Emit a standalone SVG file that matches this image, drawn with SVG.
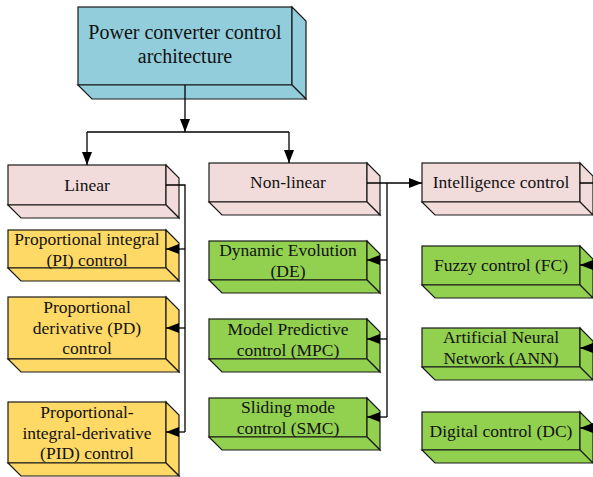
<svg xmlns="http://www.w3.org/2000/svg" width="593" height="477" viewBox="0 0 593 477">
  <style>
    .box rect, .box polygon { stroke: #1a1a1a; stroke-width: 1.2; stroke-linejoin: miter; }
    .blue rect, .blue polygon { fill: #92CDDC; }
    .pink rect, .pink polygon { fill: #F2DCDB; }
    .yellow rect, .yellow polygon { fill: #FFD966; }
    .green rect, .green polygon { fill: #92D050; }
    text { font-family: "Liberation Serif", "Times New Roman", serif; font-size: 17.5px; fill: #111; text-anchor: middle; }
    .title { font-size: 20px; }
    .wire { fill: none; stroke: #000; stroke-width: 1.3; }
  </style>
  <defs>
    <marker id="arrow" viewBox="0 0 13 10" refX="13" refY="5" markerWidth="13" markerHeight="10" markerUnits="userSpaceOnUse" orient="auto">
      <path d="M0,0 L13,5 L0,10 Z" fill="#000"/>
    </marker>
  </defs>

  <!-- Root -->
  <g id="root" class="box blue">
    <rect x="78" y="7" width="214" height="78"/>
    <polygon points="292,7 306,21 306,99 292,85"/>
    <polygon points="78,85 292,85 306,99 92,99"/>
    <text class="title" x="185" y="39">Power converter control</text>
    <text class="title" x="185" y="63">architecture</text>
  </g>

  <!-- Category level -->
  <g id="linear" class="box pink">
    <rect x="8" y="165" width="158" height="40"/>
    <polygon points="166,165 179,178 179,218 166,205"/>
    <polygon points="8,205 166,205 179,218 21,218"/>
    <text x="87" y="191">Linear</text>
  </g>
  <g id="nonlinear" class="box pink">
    <rect x="209" y="163" width="158" height="39"/>
    <polygon points="367,163 380,176 380,215 367,202"/>
    <polygon points="209,202 367,202 380,215 222,215"/>
    <text x="288" y="188">Non-linear</text>
  </g>
  <g id="intelligence" class="box pink">
    <rect x="422" y="163" width="158" height="39"/>
    <polygon points="580,163 593,176 593,215 580,202"/>
    <polygon points="422,202 580,202 593,215 435,215"/>
    <text x="501" y="188">Intelligence control</text>
  </g>

  <!-- Linear methods -->
  <g id="pi" class="box yellow">
    <rect x="8" y="230" width="158" height="38"/>
    <polygon points="166,230 179,243 179,281 166,268"/>
    <polygon points="8,268 166,268 179,281 21,281"/>
    <text x="87" y="245">Proportional integral</text>
    <text x="87" y="265.5">(PI) control</text>
  </g>
  <g id="pd" class="box yellow">
    <rect x="8" y="297" width="158" height="62"/>
    <polygon points="166,297 179,310 179,372 166,359"/>
    <polygon points="8,359 166,359 179,372 21,372"/>
    <text x="87" y="313">Proportional</text>
    <text x="87" y="333.5">derivative (PD)</text>
    <text x="87" y="354">control</text>
  </g>
  <g id="pid" class="box yellow">
    <rect x="8" y="402" width="158" height="61"/>
    <polygon points="166,402 179,415 179,476 166,463"/>
    <polygon points="8,463 166,463 179,476 21,476"/>
    <text x="87" y="418">Proportional-</text>
    <text x="87" y="438.5">integral-derivative</text>
    <text x="87" y="459">(PID) control</text>
  </g>

  <!-- Non-linear methods -->
  <g id="de" class="box green">
    <rect x="209" y="241" width="158" height="39"/>
    <polygon points="367,241 380,254 380,293 367,280"/>
    <polygon points="209,280 367,280 380,293 222,293"/>
    <text x="288" y="256">Dynamic Evolution</text>
    <text x="288" y="277">(DE)</text>
  </g>
  <g id="mpc" class="box green">
    <rect x="209" y="319" width="158" height="40"/>
    <polygon points="367,319 380,332 380,372 367,359"/>
    <polygon points="209,359 367,359 380,372 222,372"/>
    <text x="288" y="335">Model Predictive</text>
    <text x="288" y="356">control (MPC)</text>
  </g>
  <g id="smc" class="box green">
    <rect x="209" y="398" width="158" height="39"/>
    <polygon points="367,398 380,411 380,450 367,437"/>
    <polygon points="209,437 367,437 380,450 222,450"/>
    <text x="288" y="413">Sliding mode</text>
    <text x="288" y="434">control (SMC)</text>
  </g>

  <!-- Intelligent methods -->
  <g id="fc" class="box green">
    <rect x="422" y="246" width="158" height="39"/>
    <polygon points="580,246 593,259 593,298 580,285"/>
    <polygon points="422,285 580,285 593,298 435,298"/>
    <text x="501" y="271">Fuzzy control (FC)</text>
  </g>
  <g id="ann" class="box green">
    <rect x="422" y="328" width="158" height="39"/>
    <polygon points="580,328 593,341 593,380 580,367"/>
    <polygon points="422,367 580,367 593,380 435,380"/>
    <text x="501" y="343">Artificial Neural</text>
    <text x="501" y="364">Network (ANN)</text>
  </g>
  <g id="dc" class="box green">
    <rect x="422" y="412" width="158" height="38"/>
    <polygon points="580,412 593,425 593,463 580,450"/>
    <polygon points="422,450 580,450 593,463 435,463"/>
    <text x="501" y="437">Digital control (DC)</text>
  </g>

  <!-- Connectors -->
  <g id="connectors">
    <path class="wire" d="M185,85 V132" marker-end="url(#arrow)"/>
    <path class="wire" d="M87,132 H289"/>
    <path class="wire" d="M87,132 V165" marker-end="url(#arrow)"/>
    <path class="wire" d="M289,132 V163" marker-end="url(#arrow)"/>

    <path class="wire" d="M166,185 H185 V432"/>
    <path class="wire" d="M185,249 H166" marker-end="url(#arrow)"/>
    <path class="wire" d="M185,328 H166" marker-end="url(#arrow)"/>
    <path class="wire" d="M185,432 H166" marker-end="url(#arrow)"/>

    <path class="wire" d="M367,183 H422" marker-end="url(#arrow)"/>
    <path class="wire" d="M387,183 V417"/>
    <path class="wire" d="M387,260 H367" marker-end="url(#arrow)"/>
    <path class="wire" d="M387,339 H367" marker-end="url(#arrow)"/>
    <path class="wire" d="M387,417 H367" marker-end="url(#arrow)"/>

    <path class="wire" d="M580,183 H598 V428"/>
    <path class="wire" d="M598,265 H580" marker-end="url(#arrow)"/>
    <path class="wire" d="M598,348 H580" marker-end="url(#arrow)"/>
    <path class="wire" d="M598,428 H580" marker-end="url(#arrow)"/>
  </g>
</svg>
